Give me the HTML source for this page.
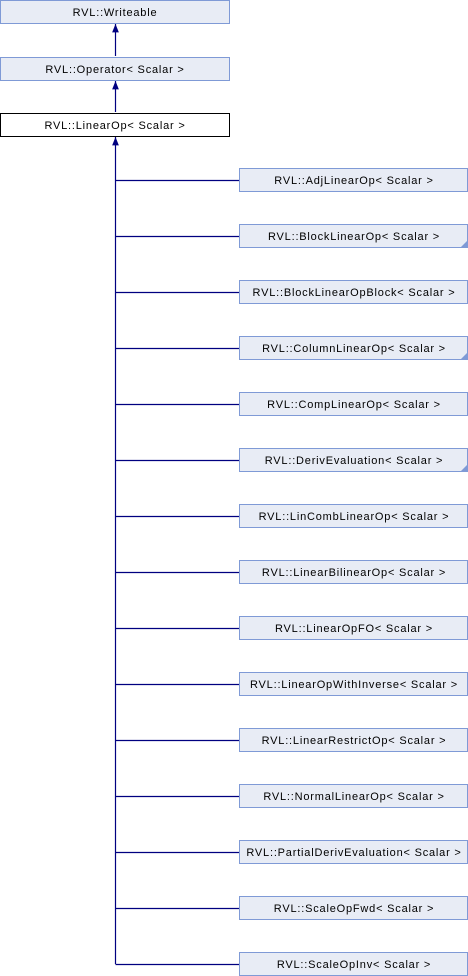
<!DOCTYPE html>
<html><head><meta charset="utf-8"><style>
html,body{margin:0;padding:0;background:#fff;}
svg{display:block;}
text{font-family:"Liberation Sans",sans-serif;font-size:11px;letter-spacing:0.8px;fill:#000;}
</style></head><body>
<svg width="468" height="976" xmlns="http://www.w3.org/2000/svg">
<defs>
<marker id="a" viewBox="0 0 10 10" refX="10" refY="5" markerWidth="7" markerHeight="7" orient="auto"><path d="M0,1 L10,5 L0,9 z" fill="#000080"/></marker>
</defs>
<g stroke="#000080" stroke-width="1.2" fill="none">
<line x1="115.5" y1="56" x2="115.5" y2="24" marker-end="url(#a)"/>
<line x1="115.5" y1="112" x2="115.5" y2="81" marker-end="url(#a)"/>
<line x1="115.5" y1="964" x2="115.5" y2="137" marker-end="url(#a)"/>
</g>
<rect x="0.5" y="0.5" width="229" height="23" fill="#e8ecf5" stroke="#7f9ad6"/>
<text x="115" y="16" text-anchor="middle">RVL::Writeable</text>
<rect x="0.5" y="57.5" width="229" height="23" fill="#e8ecf5" stroke="#7f9ad6"/>
<text x="115" y="73" text-anchor="middle">RVL::Operator&lt; Scalar &gt;</text>
<rect x="0.5" y="113.5" width="229" height="23" fill="#fff" stroke="#000"/>
<text x="115" y="129" text-anchor="middle">RVL::LinearOp&lt; Scalar &gt;</text>
<g id="kids"></g>
</svg>
<script>
var names=["AdjLinearOp","BlockLinearOp","BlockLinearOpBlock","ColumnLinearOp","CompLinearOp","DerivEvaluation","LinCombLinearOp","LinearBilinearOp","LinearOpFO","LinearOpWithInverse","LinearRestrictOp","NormalLinearOp","PartialDerivEvaluation","ScaleOpFwd","ScaleOpInv"];
var fold={1:1,3:1,5:1};
var s="";
names.forEach(function(n,i){var y=168+56*i;
s+='<line x1="115.5" y1="'+(y+12.5)+'" x2="239" y2="'+(y+12.5)+'" stroke="#000080" stroke-width="1.2"/>';
s+='<rect x="239.5" y="'+(y+0.5)+'" width="228" height="23" fill="#e8ecf5" stroke="#7f9ad6"/>';
if(fold[i])s+='<path d="M467,'+(y+17)+' L467,'+(y+23)+' L461,'+(y+23)+' z" fill="#7f9ad6"/>';
s+='<text x="354" y="'+(y+16)+'" text-anchor="middle">RVL::'+n+'&lt; Scalar &gt;</text>';});
document.getElementById("kids").innerHTML=s;
</script>
</body></html>
